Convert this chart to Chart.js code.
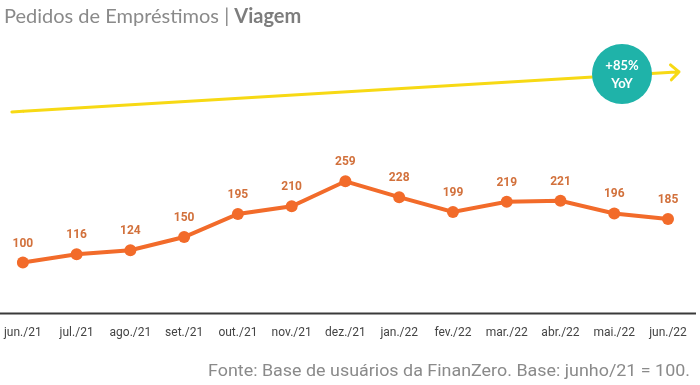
<!DOCTYPE html>
<html>
<head>
<meta charset="utf-8">
<script src="https://cdn.jsdelivr.net/npm/chart.js@4"></script>
<style>
  html, body { margin: 0; padding: 0; background: #fff; }
  #wrap { position: relative; width: 700px; height: 385px; }
  #title { position: absolute; left: 4px; top: 3px; font: 20px Lato, sans-serif; color: #8a8a8a; white-space: nowrap; }
  #title b { color: #7d7d7d; }
</style>
</head>
<body>
<div id="wrap">
  <canvas id="chart" width="700" height="385"></canvas>
  <div id="title">Pedidos de Empréstimos | <b>Viagem</b></div>
</div>
<script>
const months = ['jun./21', 'jul./21', 'ago./21', 'set./21', 'out./21', 'nov./21', 'dez./21',
  'jan./22', 'fev./22', 'mar./22', 'abr./22', 'mai./22', 'jun./22'];
const pedidos = [100, 116, 124, 150, 195, 210, 259, 228, 199, 219, 221, 196, 185];
// trend arrow: only start and end, drawn across the whole period
const tendencia = [396, null, null, null, null, null, null, null, null, null, null, null, 472];
const yoyText = ['+85%', 'YoY'];
const footerText = 'Fonte: Base de usuários da FinanZero. Base: junho/21 = 100.';

const orange = '#f26b2a';
const yellow = '#f7d914';
const teal = '#1fb3a9';

const extras = {
  id: 'extras',
  afterDatasetsDraw(chart) {
    const ctx = chart.ctx;
    const y = chart.scales.y;

    // value labels
    const meta = chart.getDatasetMeta(1);
    ctx.save();
    ctx.font = 'bold 12px Roboto';
    ctx.fillStyle = '#d2713c';
    ctx.textAlign = 'center';
    ctx.textBaseline = 'middle';
    meta.data.forEach((p, i) => {
      ctx.fillText(pedidos[i], p.x, p.y - 19);
    });
    ctx.restore();

    // trend line starts a little before the first month, then arrow head + badge
    const tm = chart.getDatasetMeta(0);
    const a = tm.data[0], b = tm.data[tm.data.length - 1];
    const ang = Math.atan2(b.y - a.y, b.x - a.x);
    const tipX = b.x + 11 * Math.cos(ang), tipY = b.y + 11 * Math.sin(ang);
    ctx.save();
    ctx.strokeStyle = yellow;
    ctx.lineWidth = 3;
    ctx.lineCap = 'round';
    ctx.lineJoin = 'round';
    ctx.beginPath();
    ctx.moveTo(a.x - 11 * Math.cos(ang), a.y - 11 * Math.sin(ang));
    ctx.lineTo(a.x, a.y);
    ctx.moveTo(b.x, b.y);
    ctx.lineTo(tipX, tipY);
    ctx.moveTo(tipX - 11 * Math.cos(ang - 0.75), tipY - 11 * Math.sin(ang - 0.75));
    ctx.lineTo(tipX, tipY);
    ctx.lineTo(tipX - 11 * Math.cos(ang + 0.75), tipY - 11 * Math.sin(ang + 0.75));
    ctx.stroke();

    const cx = b.x - 46, cy = b.y + 1.5;
    ctx.fillStyle = teal;
    ctx.beginPath();
    ctx.arc(cx, cy, 30, 0, Math.PI * 2);
    ctx.fill();
    ctx.fillStyle = '#fff';
    ctx.font = 'bold 13px Lato';
    ctx.textAlign = 'center';
    ctx.textBaseline = 'middle';
    ctx.fillText(yoyText[0], cx, cy - 8);
    ctx.fillText(yoyText[1], cx, cy + 10);
    ctx.restore();

    // baseline
    const y0 = y.getPixelForValue(0);
    ctx.save();
    ctx.strokeStyle = '#3a3a3a';
    ctx.lineWidth = 2;
    ctx.beginPath();
    ctx.moveTo(0, y0);
    ctx.lineTo(chart.width - 4, y0);
    ctx.stroke();

    // footer
    ctx.font = '17px Roboto';
    ctx.fillStyle = '#8a8a8a';
    ctx.textBaseline = 'middle';
    const w = ctx.measureText(footerText).width;
    const target = 482;
    ctx.translate(chart.width - 10 - target, 372);
    ctx.scale(target / w, 1);
    ctx.fillText(footerText, 0, 0);
    ctx.restore();
  }
};

new Chart(document.getElementById('chart'), {
  type: 'line',
  data: {
    labels: months,
    datasets: [
      {
        data: tendencia,
        borderColor: yellow,
        borderWidth: 3,
        pointRadius: 0,
        spanGaps: true,
        tension: 0
      },
      {
        data: pedidos,
        borderColor: orange,
        backgroundColor: orange,
        borderWidth: 4,
        pointRadius: 6,
        pointBackgroundColor: orange,
        pointBorderWidth: 0,
        tension: 0
      }
    ]
  },
  options: {
    responsive: false,
    animation: false,
    layout: { padding: { left: 15, right: 32, top: 48, bottom: 41 } },
    plugins: { legend: { display: false }, tooltip: { enabled: false } },
    scales: {
      x: {
        offset: false,
        grid: { display: false },
        border: { display: false },
        ticks: { color: '#444', font: { family: 'Roboto', size: 12 }, padding: 4, maxRotation: 0, autoSkip: false }
      },
      y: {
        display: false,
        min: 0,
        max: 520
      }
    }
  },
  plugins: [extras]
});
</script>
</body>
</html>
